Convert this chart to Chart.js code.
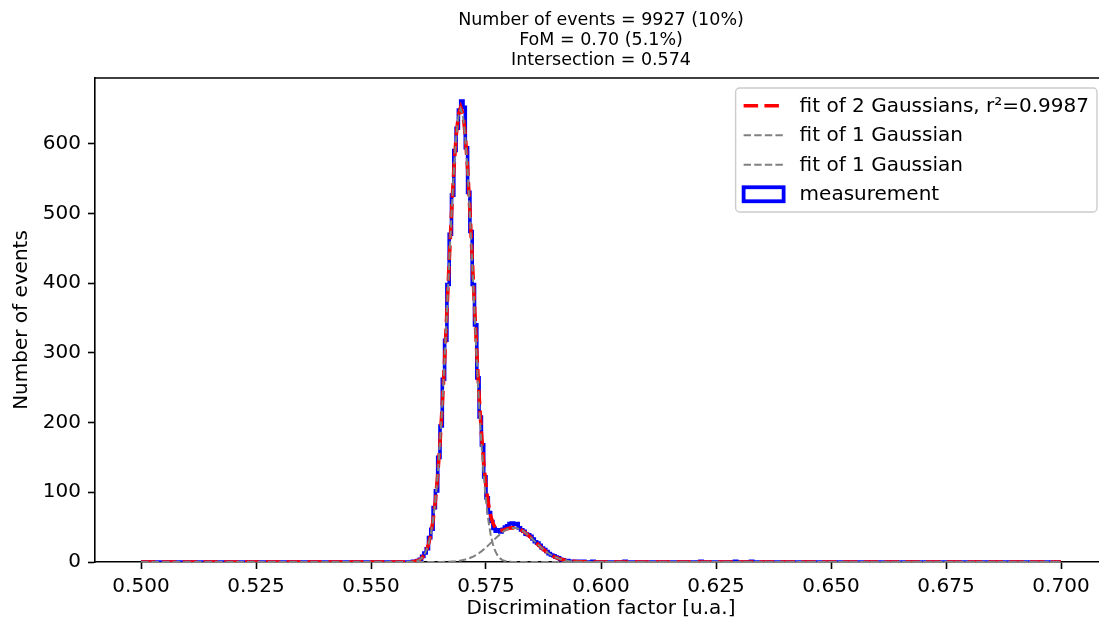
<!DOCTYPE html>
<html><head><meta charset="utf-8">
<script src="https://cdn.jsdelivr.net/npm/chart.js@4.4.1/dist/chart.umd.min.js"></script>
<style>html,body{margin:0;padding:0;overflow:hidden;background:#fff}</style>
</head><body>
<canvas id="c" width="1108" height="622" style="display:block;width:1108px;height:622px"></canvas>
<script>
// ---------- data ----------
const titleLines = ['Number of events = 9927 (10%)', 'FoM = 0.70 (5.1%)', 'Intersection = 0.574'];
const xLabel = 'Discrimination factor [u.a.]';
const yLabel = 'Number of events';
const xTicks = [0.500, 0.525, 0.550, 0.575, 0.600, 0.625, 0.650, 0.675, 0.700];
const yTicks = [0, 100, 200, 300, 400, 500, 600];
const legendLabels = ['fit of 2 Gaussians, r\u00B2=0.9987', 'fit of 1 Gaussian', 'fit of 1 Gaussian', 'measurement'];

// histogram: 400 bins of 0.0005 starting at 0.5
const binStart = 0.5, binWidth = 0.0005;
const counts = [
  0,0,0,0,0,0,0,0,0,0,  0,0,0,0,0,0,0,0,0,0,   // 0.500 - 0.510
  0,0,0,0,0,0,0,0,0,0,  0,0,0,0,0,0,0,0,0,0,   // 0.510 - 0.520
  0,0,0,0,0,0,0,0,0,0,  0,0,0,0,0,0,0,0,0,0,   // 0.520 - 0.530
  0,0,0,0,0,0,0,0,0,0,  0,0,0,0,0,0,0,0,0,0,   // 0.530 - 0.540
  0,0,0,0,0,0,0,0,0,0,  0,0,0,0,0,0,0,0,0,0,   // 0.540 - 0.550
  0,0,0,0,0,0,0,0,0,0,                         // 0.550 - 0.555
  0,0,0,0,0,0,0,0,1,1,                         // 0.555 - 0.560
  2,4,8,13,19,35,47,78,102,150,                // 0.560 - 0.565
  195,262,318,398,470,526,590,622,648,661,     // 0.565 - 0.570
  652,594,530,474,398,340,264,208,168,122,     // 0.570 - 0.575
  92,71,58,48,44,46,43,47,50,52,               // 0.575 - 0.580
  55,56,54,55,49,46,44,40,39,37,               // 0.580 - 0.585
  33,29,27,24,20,18,15,12,10,9,                // 0.585 - 0.590
  7,6,4,3,2,2,1,1,1,0,                         // 0.590 - 0.595
  1,0,1,0,0,0,1,0,0,0,                         // 0.595 - 0.600
  0,0,0,0,0,0,0,0,0,0,                         // 0.600 - 0.605
  1,0,0,0,0,0,0,0,0,0,                         // 0.605 - 0.610
  0,0,0,0,0,0,0,0,0,0,                         // 0.610 - 0.615
  0,0,0,0,0,0,0,0,0,0,                         // 0.615 - 0.620
  0,0,0,1,0,0,0,0,0,0,                         // 0.620 - 0.625
  0,0,0,0,0,0,0,0,1,0,                         // 0.625 - 0.630
  0,0,0,0,0,1,0,0,0,0,                         // 0.630 - 0.635
  0,0,0,0,0,0,0,0,0,0,  0,0,0,0,0,0,0,0,0,0,   // 0.635 - 0.645
  0,0,0,0,0,0,0,0,0,0,  0,0,0,0,0,0,0,0,0,0,   // 0.645 - 0.655
  0,0,0,0,0,0,0,0,0,0,  0,0,0,0,0,0,0,0,0,0,   // 0.655 - 0.665
  0,0,0,0,0,0,0,0,0,0,  0,0,0,0,0,0,0,0,0,0,   // 0.665 - 0.675
  0,0,0,0,0,0,0,0,0,0,  0,0,0,0,0,0,0,0,0,0,   // 0.675 - 0.685
  0,0,0,0,0,0,0,0,0,0,  0,0,0,0,0,0,0,0,0,0,   // 0.685 - 0.695
  0,0,0,0,0,0,0,0,0,0                          // 0.695 - 0.700
];

// fit curves sampled from 0.555 in steps of 0.0005 (101 samples), zero at 0.5 and 0.7
const fitStart = 0.555, fitStep = 0.0005, fitLo = 0.5, fitHi = 0.7;
const fitSum = [
  0,0,0,0.01,0.02,0.05,0.1,0.22,0.44,0.87,
  1.7,3.1,5.5,9.4,15.8,25.5,39.8,60.2,88.05,124.57,
  170.5,225.86,289.43,358.83,430.46,499.54,561.08,609.59,640.89,652.1,
  642.05,611.95,564.73,504.61,437.12,367.27,299.88,238.54,185.66,142.42,
  108.8,84.05,66.83,55.76,49.28,46.0,45.05,45.33,46.25,47.31,
  48.29,48.93,49.1,48.76,47.87,46.45,44.55,42.23,39.55,36.6,
  33.48,30.26,27.03,23.85,20.8,17.92,15.26,12.84,10.68,8.77,
  7.12,5.71,4.53,3.55,2.75,2.1,1.59,1.19,0.88,0.64,
  0.46,0.33,0.23,0.16,0.1,0.07,0.05,0,0,0,
  0,0,0,0,0,0,0,0,0,0,0
];
const fitMain = [
  0,0,0,0.01,0.02,0.05,0.1,0.22,0.44,0.87,
  1.7,3.1,5.5,9.4,15.8,25.5,39.8,60.2,88.0,124.5,
  170.4,225.7,289.2,358.5,430.0,498.9,560.2,608.4,639.3,650,
  639.3,608.4,560.2,498.9,430.0,358.5,289.2,225.7,170.4,124.5,
  88.0,60.2,39.8,25.5,15.8,9.4,5.5,3.1,1.7,0.87,
  0.44,0.22,0.1,0.05,0.02,0.01,0,0,0,0,
  0,0,0,0,0,0,0,0,0,0,
  0,0,0,0,0,0,0,0,0,0,
  0,0,0,0,0,0,0,0,0,0,
  0,0,0,0,0,0,0,0,0,0,0
];
const fitSecond = [
  0,0,0,0,0,0,0,0,0,0,
  0,0,0,0,0,0,0,0,0.05,0.07,
  0.1,0.16,0.23,0.33,0.46,0.64,0.88,1.19,1.59,2.1,
  2.75,3.55,4.53,5.71,7.12,8.77,10.68,12.84,15.26,17.92,
  20.8,23.85,27.03,30.26,33.48,36.6,39.55,42.23,44.55,46.44,
  47.85,48.71,49,48.71,47.85,46.44,44.55,42.23,39.55,36.6,
  33.48,30.26,27.03,23.85,20.8,17.92,15.26,12.84,10.68,8.77,
  7.12,5.71,4.53,3.55,2.75,2.1,1.59,1.19,0.88,0.64,
  0.46,0.33,0.23,0.16,0.1,0.07,0.05,0,0,0,
  0,0,0,0,0,0,0,0,0,0,0
];

// ---------- build series ----------
const histPts = [{x: binStart, y: 0}];
counts.forEach((c, i) => histPts.push({x: binStart + i * binWidth, y: c}));
const histEnd = binStart + counts.length * binWidth;
histPts.push({x: histEnd, y: counts[counts.length - 1]}, {x: histEnd, y: 0});

function fitPts(arr) {
  const p = [{x: fitLo, y: 0}];
  arr.forEach((v, n) => p.push({x: fitStart + n * fitStep, y: v}));
  p.push({x: fitHi, y: 0});
  return p;
}

const FONT = 'DejaVu Sans';
const RED = '#ff0000', GREY = '#808080', BLUE = '#0000ff';
const RED_DASH = [14.5, 6.3], GREY_DASH = [7.4, 3.2];

const framePlugin = {
  id: 'frame',
  afterDatasetsDraw(chart) {
    const {ctx, chartArea: a} = chart;
    ctx.save();
    ctx.strokeStyle = '#000'; ctx.lineWidth = 1.6;
    ctx.beginPath();
    ctx.moveTo(a.left, a.top); ctx.lineTo(a.right, a.top); ctx.lineTo(a.right, a.bottom);
    ctx.stroke();
    ctx.restore();
  }
};

const legendPlugin = {
  id: 'mplLegend',
  afterDraw(chart) {
    const {ctx, chartArea: a} = chart;
    const fs = 20;
    ctx.save();
    ctx.font = fs + 'px "' + FONT + '"';
    let tw = 0;
    legendLabels.forEach(t => tw = Math.max(tw, ctx.measureText(t).width));
    const pad = 8, hl = 40, htp = 16, rowH = 19.5, sp = 10;
    const w = pad + hl + htp + tw + pad;
    const h = pad * 2 + rowH * 4 + sp * 3;
    const right = a.right - 10, top = a.top + 10, left = right - w;
    ctx.beginPath();
    ctx.roundRect(left, top, w, h, 4);
    ctx.fillStyle = 'rgba(255,255,255,0.8)';
    ctx.fill();
    ctx.strokeStyle = '#cccccc'; ctx.lineWidth = 1.4;
    ctx.stroke();
    const styles = [
      {type: 'line', color: RED, width: 3.6, dash: RED_DASH},
      {type: 'line', color: GREY, width: 2, dash: GREY_DASH},
      {type: 'line', color: GREY, width: 2, dash: GREY_DASH},
      {type: 'rect', color: BLUE, width: 3.8}
    ];
    legendLabels.forEach((t, i) => {
      const cy = top + pad + rowH / 2 + i * (rowH + sp);
      const hx = left + pad;
      const s = styles[i];
      ctx.strokeStyle = s.color; ctx.lineWidth = s.width;
      if (s.type === 'line') {
        ctx.setLineDash(s.dash); ctx.lineCap = 'butt';
        ctx.beginPath(); ctx.moveTo(hx, cy); ctx.lineTo(hx + hl, cy); ctx.stroke();
        ctx.setLineDash([]);
      } else {
        ctx.lineJoin = 'miter';
        ctx.strokeRect(hx, cy - 7, hl, 14);
      }
      ctx.fillStyle = '#000';
      ctx.textBaseline = 'middle'; ctx.textAlign = 'left';
      ctx.fillText(t, hx + hl + htp, cy + 1);
    });
    ctx.restore();
  }
};

new Chart(document.getElementById('c'), {
  type: 'line',
  data: {
    datasets: [
      {label: legendLabels[1], data: fitPts(fitMain), borderColor: GREY, borderWidth: 2, borderDash: GREY_DASH,
       pointRadius: 0, tension: 0, fill: false, order: 1, clip: 0},
      {label: legendLabels[2], data: fitPts(fitSecond), borderColor: GREY, borderWidth: 2, borderDash: GREY_DASH,
       pointRadius: 0, tension: 0, fill: false, order: 1, clip: 0},
      {label: legendLabels[0], data: fitPts(fitSum), borderColor: RED, borderWidth: 3.6, borderDash: RED_DASH,
       pointRadius: 0, tension: 0, fill: false, order: 2, clip: 0},
      {label: legendLabels[3], data: histPts, borderColor: BLUE, borderWidth: 3.6, stepped: 'before',
       borderJoinStyle: 'miter', pointRadius: 0, fill: false, order: 3, clip: 0}
    ]
  },
  options: {
    responsive: false,
    animation: false,
    devicePixelRatio: 1,
    layout: {padding: {left: 0, right: 1, top: 0, bottom: 0}},
    plugins: {
      legend: {display: false},
      tooltip: {enabled: false},
      title: {
        display: true, text: titleLines, fullSize: false, color: '#000',
        font: {family: FONT, size: 17.5, weight: 'normal', lineHeight: 1.143},
        padding: {top: 10, bottom: 8}
      }
    },
    scales: {
      x: {
        type: 'linear', min: 0.49, max: 0.71,
        afterBuildTicks: s => { s.ticks = xTicks.map(v => ({value: v})); },
        afterFit: s => { s.height = 60; },
        ticks: {callback: v => Number(v).toFixed(3), font: {family: FONT, size: 20}, color: '#000',
                padding: 6, maxRotation: 0, autoSkip: false},
        grid: {display: true, drawOnChartArea: false, drawTicks: true, tickLength: 7, tickWidth: 1.6, tickColor: '#000'},
        border: {display: true, color: '#000', width: 1.6},
        title: {display: true, text: xLabel, color: '#000', font: {family: FONT, size: 20}, padding: {top: 0, bottom: 1}}
      },
      y: {
        type: 'linear', min: 0, max: 694,
        afterBuildTicks: s => { s.ticks = yTicks.map(v => ({value: v})); },
        afterFit: s => { s.width = 95; },
        ticks: {callback: v => String(v), font: {family: FONT, size: 20}, color: '#000', padding: 7, autoSkip: false},
        grid: {display: true, drawOnChartArea: false, drawTicks: true, tickLength: 7, tickWidth: 1.6, tickColor: '#000'},
        border: {display: true, color: '#000', width: 1.6},
        title: {display: true, text: yLabel, color: '#000', font: {family: FONT, size: 20}, padding: {top: 10, bottom: 0}}
      }
    }
  },
  plugins: [framePlugin, legendPlugin]
});
</script>
</body></html>
